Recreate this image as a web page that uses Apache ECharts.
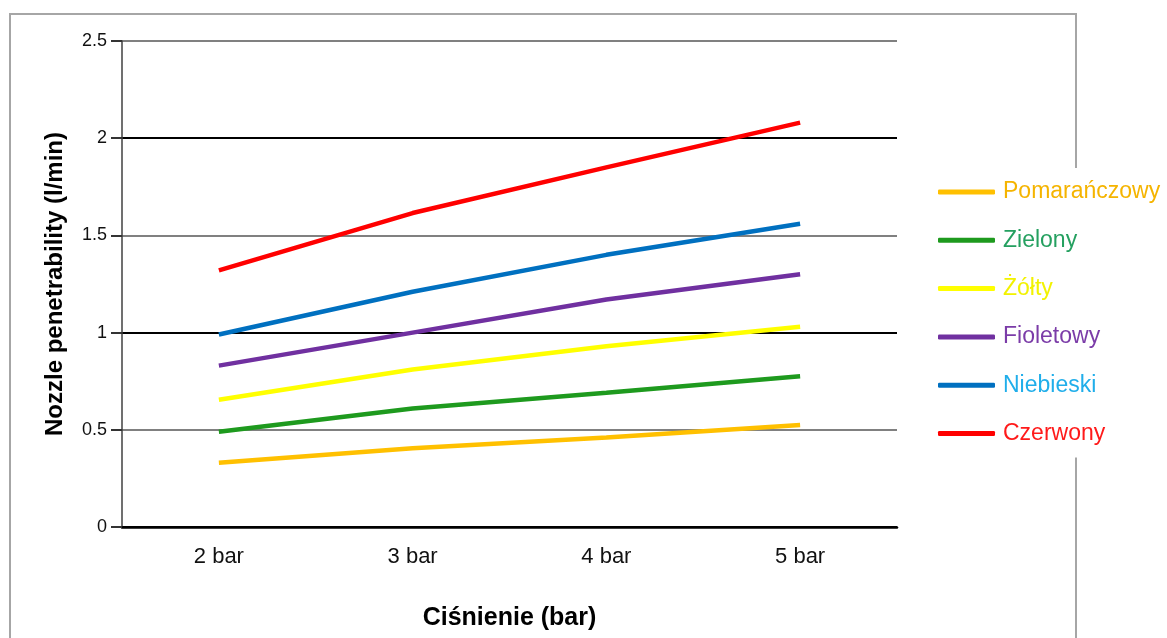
<!DOCTYPE html>
<html>
<head>
<meta charset="utf-8">
<script src="https://cdn.jsdelivr.net/npm/echarts@6/dist/echarts.min.js"></script>
<style>
html,body{margin:0;padding:0;background:#fff;}
#chart{width:1167px;height:638px;}
</style>
</head>
<body>
<div id="chart"></div>
<script>
const categories = ['2 bar', '3 bar', '4 bar', '5 bar'];
const seriesNames = ['Pomarańczowy', 'Zielony', 'Żółty', 'Fioletowy', 'Niebieski', 'Czerwony'];
const pomaranczowy = [0.33, 0.405, 0.46, 0.525];
const zielony = [0.49, 0.61, 0.69, 0.775];
const zolty = [0.655, 0.81, 0.93, 1.03];
const fioletowy = [0.83, 1.00, 1.17, 1.30];
const niebieski = [0.99, 1.21, 1.40, 1.56];
const czerwony = [1.32, 1.615, 1.85, 2.08];
const yTicks = [0, 0.5, 1, 1.5, 2, 2.5];

const lineColors = ['#FFC000', '#1E9A1E', '#FFFF00', '#7030A0', '#0070C0', '#FF0000'];
const textColors = ['#F5B400', '#25A060', '#F2F200', '#7B3CA8', '#20AEEA', '#FF1A1A'];
const values = [pomaranczowy, zielony, zolty, fioletowy, niebieski, czerwony];

const chart = echarts.init(document.getElementById('chart'), null, {renderer: 'canvas'});
const FONT = '"Liberation Sans", Arial, sans-serif';

chart.setOption({
  animation: false,
  backgroundColor: '#fff',
  graphic: [{
    type: 'rect',
    z: -10,
    shape: {x: 10, y: 14, width: 1066, height: 700},
    style: {fill: 'none', stroke: '#a6a6a6', lineWidth: 2}
  }],
  grid: {left: 122, right: 270, top: 41, bottom: 111, containLabel: false},
  legend: {
    orient: 'vertical',
    left: 934,
    top: 168,
    padding: [12, 4, 12, 4],
    backgroundColor: '#fff',
    itemGap: 24.3,
    itemWidth: 57,
    itemHeight: 5,
    icon: 'roundRect',
    data: seriesNames.map((n, i) => ({
      name: n,
      textStyle: {color: textColors[i]}
    })),
    textStyle: {fontFamily: FONT, fontSize: 23, lineHeight: 24, padding: [0, 0, 0, 3]}
  },
  xAxis: {
    type: 'category',
    data: categories,
    boundaryGap: true,
    axisLine: {show: true, lineStyle: {color: '#000', width: 2.5}},
    axisTick: {show: false},
    axisLabel: {color: '#111', fontFamily: FONT, fontSize: 22, margin: 19},
    splitLine: {show: false},
    name: 'Ciśnienie (bar)',
    nameLocation: 'middle',
    nameGap: 79,
    nameTextStyle: {color: '#000', fontFamily: FONT, fontWeight: 'bold', fontSize: 25}
  },
  yAxis: {
    type: 'value',
    min: yTicks[0],
    max: yTicks[yTicks.length - 1],
    interval: 0.5,
    axisLine: {show: true, lineStyle: {color: '#404040', width: 1.5}},
    axisTick: {show: true, length: 11, lineStyle: {color: '#333', width: 2}},
    axisLabel: {color: '#111', fontFamily: FONT, fontSize: 18, margin: 15},
    splitLine: {show: true, lineStyle: {color: ['#000', '#808080', '#000', '#808080', '#000', '#808080'], width: 2}},
    name: 'Nozzle penetrability (l/min)',
    nameLocation: 'middle',
    nameGap: 55,
    nameTextStyle: {color: '#000', fontFamily: FONT, fontWeight: 'bold', fontSize: 24}
  },
  series: seriesNames.map((n, i) => ({
    name: n,
    type: 'line',
    data: values[i],
    showSymbol: false,
    symbol: 'none',
    itemStyle: {color: lineColors[i]},
    lineStyle: {color: lineColors[i], width: 4.5, cap: 'butt'},
    z: 3
  }))
});
</script>
</body>
</html>
